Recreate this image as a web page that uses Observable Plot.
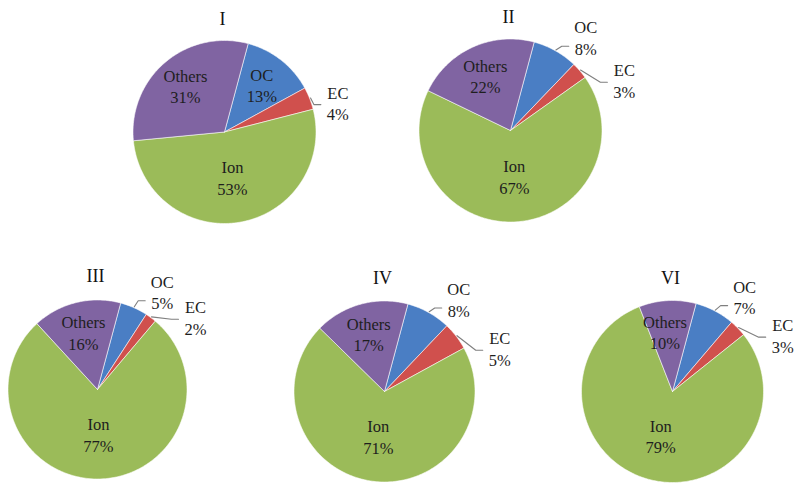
<!DOCTYPE html>
<html><head><meta charset="utf-8">
<script src="https://cdn.jsdelivr.net/npm/d3@7"></script>
<script src="https://cdn.jsdelivr.net/npm/@observablehq/plot@0.6"></script>
<style>body{margin:0;background:#fff;} svg text{font-family:"Liberation Serif","DejaVu Serif","Times New Roman",serif !important;}</style>
</head><body><div id="chart"></div>
<script>
// ---- data ----
const pies = ["I", "II", "III", "IV", "VI"];
const components = ["OC", "EC", "Ion", "Others"];
const OC = [13, 8, 5, 8, 7];
const EC = [4, 3, 2, 5, 3];
const Ion = [53, 67, 77, 71, 79];
const Others = [31, 22, 16, 17, 10];
const series = {OC, EC, Ion, Others};
const colors = ["#4a7ec4", "#d0504d", "#9bbb59", "#8064a2"];

// ---- layout ----
const W = 800, H = 490;
const FONT = "'Liberation Serif', 'DejaVu Serif', 'Times New Roman', serif";
const layout = {
  I:   {cx: 224, cy: 131.5, r: 91.5},
  II:  {cx: 510, cy: 130,   r: 91.5},
  III: {cx: 97,  cy: 389,   r: 89.5},
  IV:  {cx: 384, cy: 391,   r: 90.5},
  VI:  {cx: 672, cy: 391,   r: 91}
};
const startDeg = 15;
const rad = d => d * Math.PI / 180;
const px = (g, a, rr) => g.cx + rr * Math.sin(rad(a));
const py = (g, a, rr) => g.cy - rr * Math.cos(rad(a));

const slicePts = [], labels = [], leaders = [], titles = [];
pies.forEach((p, i) => {
  const g = layout[p];
  const vals = components.map(c => series[c][i]);
  const total = d3.sum(vals);
  let a = startDeg;
  const outside = components.filter((c, j) => vals[j] < 10);
  components.forEach((c, j) => {
    const span = vals[j] / total * 360;
    const a0 = a, a1 = a + span; a = a1;
    const key = p + "-" + c;
    slicePts.push({key, c, x: g.cx, y: g.cy});
    const n = Math.max(2, Math.ceil(span));
    for (let k = 0; k <= n; k++) {
      const t = a0 + span * k / n;
      slicePts.push({key, c, x: px(g, t, g.r), y: py(g, t, g.r)});
    }
    slicePts.push({key, c, x: g.cx, y: g.cy});
    const mid = (a0 + a1) / 2;
    const text = c + "\n" + vals[j] + "%";
    if (vals[j] >= 10) {
      const f = c === "Ion" ? 0.5 : 0.66;
      const m = (c === "Others" && vals[j] <= 10) ? mid - 4 : mid;
      labels.push({x: px(g, m, g.r * f), y: py(g, m, g.r * f), text});
    } else {
      const oi = outside.indexOf(c);
      const two = outside.length > 1;
      const off = two ? (oi === 0 ? 9.5 : 17) : 7;
      const rf = two ? (oi === 0 ? 1.31 : 1.36) : 1.28;
      const lx = px(g, mid + off, g.r * rf), ly = py(g, mid + off, g.r * rf);
      labels.push({x: lx, y: ly, text});
      const ex = lx - 17, ey = ly + (two && oi === 0 ? 9 : 2);
      const sx = px(g, mid, g.r + 1), sy = py(g, mid, g.r + 1);
      leaders.push({key, x: sx, y: sy}, {key, x: ex - 7, y: ey}, {key, x: ex, y: ey});
    }
  });
  titles.push({x: g.cx - 2, y: g.cy - 113, text: p});
});

const chart = Plot.plot({
  width: W, height: H, margin: 0,
  x: {domain: [0, W], range: [0, W], axis: null},
  y: {domain: [0, H], range: [0, H], axis: null},
  color: {domain: components, range: colors},
  style: {fontFamily: FONT, background: "white"},
  marks: [
    Plot.line(slicePts, {x: "x", y: "y", z: "key", fill: "c", stroke: "white", strokeWidth: 0.8, strokeOpacity: 0.7, curve: "linear"}),
    Plot.line(leaders, {x: "x", y: "y", z: "key", stroke: "#7f7f7f", strokeWidth: 1.1}),
    Plot.text(labels, {x: "x", y: "y", text: "text", fontSize: 16.5, lineHeight: 1.3, fill: "#1e1e1e", fontFamily: FONT}),
    Plot.text(titles, {x: "x", y: "y", text: "text", fontSize: 18, fill: "#111", fontFamily: FONT})
  ]
});
document.getElementById("chart").appendChild(chart);
</script>
</body></html>
